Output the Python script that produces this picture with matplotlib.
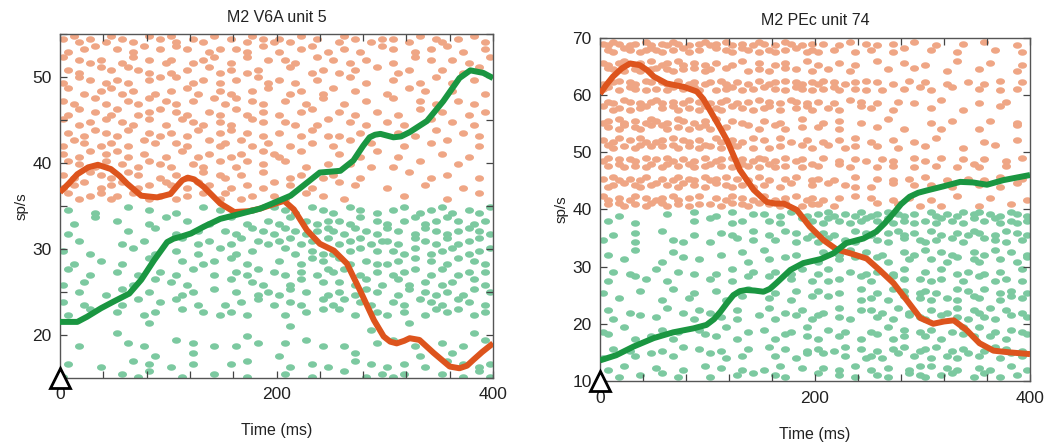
import matplotlib
matplotlib.use("Agg")
import matplotlib.pyplot as plt
import numpy as np
from matplotlib.path import Path
from matplotlib.ticker import MultipleLocator, FixedLocator

plt.rcParams["font.family"] = ["Liberation Sans", "DejaVu Sans"]

BIN_MS = 5  # one raster character per 5 ms bin; digit = small vertical offset

# ---- M2 V6A unit 5 ----
v6a_pref_t = [0, 8, 16, 26, 35, 47, 55, 62, 75, 90, 102, 108, 113, 118, 124, 133, 148,
              161, 175, 185, 197, 207, 216, 228, 240, 253, 265, 277, 290, 299, 305, 311,
              318, 323, 332, 345, 360, 369, 376, 382, 390, 400]
v6a_pref_sps = [36.6, 37.6, 38.7, 39.5, 39.8, 39.3, 38.5, 37.6, 36.2, 36.0, 36.4, 37.3,
                38.0, 38.3, 38.1, 37.2, 35.3, 34.3, 34.4, 34.7, 35.2, 35.6, 34.6, 32.2,
                30.6, 29.8, 28.3, 25.2, 21.7, 19.8, 19.2, 19.0, 19.3, 19.6, 19.4, 17.9,
                16.3, 16.1, 16.4, 17.1, 18.0, 19.0]
v6a_null_t = [0, 16, 25, 38, 50, 64, 75, 87, 99, 105, 111, 121, 133, 148, 167, 185, 200,
              213, 225, 240, 250, 259, 271, 280, 286, 291, 296, 302, 308, 315, 323, 339,
              354, 369, 379, 391, 400]
v6a_null_sps = [21.5, 21.5, 22.1, 23.1, 23.9, 24.8, 26.4, 28.7, 30.8, 31.2, 31.4, 31.8,
                32.6, 33.5, 34.1, 34.7, 35.5, 36.2, 37.4, 38.9, 39.0, 39.1, 40.3, 42.0,
                43.0, 43.3, 43.4, 43.2, 43.0, 43.1, 43.6, 44.9, 47.2, 49.9, 50.8, 50.5,
                49.9]

v6a_pref_raster = [
    "2.31.2..13 .2.1..3.2. 31..2.1.3. .2..13.2.1 2.1.3..2.. .13.2..1.2 .2..1.3..2 1..2..3.1.",
    ".1..2.3... 2..1.3..2. .3.2...1.2 ..2.1..3.. 1...2.3..1 ..2..1...3 .2...1..2. .3..1...2.",
    "3..2.1.2.. .1.3..2..1 2...1.2.3. .1..3...2. .2.1...3.. 2..1..2... .1...3..2. ..2..1...3",
    ".2.1...3.2 ..3.2.1... 1..2...3.1 .2..1.2... ..3...1.2. .1..2...3. ..1.2..... 2...1..3..",
    "1..3.2..1. 2.1...2.3. .3..1.2..1 ..2...3.1. 2..1...2.. ...3..1... .2....1..3 ..1...2...",
    ".3..1..2.3 .1.2...1.. 2..3.1...2 .1...2..3. ..1.2...1. 3...2..... 1...3..2.. ..2.....1.",
    "2.1...3.1. ..2.1.3..2 .1..2...3. 1.3..2.1.. .2...1..3. ..1...2... .3....2..1 ...2..1...",
    ".1.3..2..1 3...1.2.3. .2.1...2.1 ..3.1..2.. 1...2.3... .2..1...2. ..1...3... 2....1..2.",
    "3..1.2..3. .2.1..3..1 ..3.2.1..2 .1...3.2.. .2.1...1.3 ...2..1... 2..1....3. ..2...1...",
    ".2..1.3.2. 1.3...2.1. 2..1.3...2 .3..2..1.. 2...1.3..1 .1...2.... ..2..1...3 ....2..1..",
    "1.3.2..1.2 ..1..3.2.. .2.1...3.1 2..3.1..2. ..1...2... 1..3...2.. ...1....2. .3.....1..",
    "2..1.3..2. 3.1..2...1 ..3..1.2.. .1.2...3.2 1...3..... .2...1..3. ..1....... 2....1....",
    ".3.2..1.3. .2..1.3.2. 1...2.1..3 ..1.3..2.. .3...1...2 ...2...1.. .1....3... ...2......",
    "2.1..3.2.1 ..3.2...1. .2.1..3..2 1..2...3.. ..1.2...1. 2....1.... ....3...1. .2.....1..",
    "1.2.3..1.2 .3..1.2..3 2..1.3.2.. .1..2..1.3 ..2...1... .3..2..... 1......2.. ....1.....",
    ".3.1.2.3.1 2..3..1.2. .1.2..3..1 3..1.2...2 .1...3..2. ..1....... ...2...... .1.....3..",
]
v6a_null_raster = [
    ".2....1... ..3...2... .1....3..2 ..1..2...3 .2.1..3.2. 1..3.2..1. .2.3..1.2. 3.1..2.1.3",
    "..1...3... 2.....1..3 ...2...1.. .3..1...2. 1.3..2.1.2 .2.1.3..2. 1..2.3.1.2 .3.2..1.2.",
    ".1........ ..2....3.. .1...2.... 2.1..3.2.1 .3.2.1.2.3 2.1.3.2.1. 3.2..1.3.2 .1.2.3.2.1",
    "...2...... .1...2.... ..3..1.2.. .1.3..2.1. 2.3.1.2..3 .1.2.3.1.2 2.1..3.2.1 .3.1.2.3..",
    "2....1.... ...3...1.. .2...1...3 ..1..2.... .3.1..2.1. 1..2.3..2. .2.1.3..1. 2.3..1.2.3",
    "..1....2.. .1....3... ..2...1.2. .3..1..... 2...1.3.2. .3.1..2.1. 1.2..3..2. .1.3..2.1.",
    ".3...1.... 2...1...2. .1..3...1. ..2.1.3..2 .1..2..1.3 2.3..1..2. .1.2.3..1. 3..1.2..2.",
    "1...2..... ...1...3.. 2..1...... .3...2.1.. ..1.3...2. .2..1.3..1 ..3.1..2.. 1.2...3.1.",
    "...2....1. .3....2... ..1.2...3. ..2...1.2. 1.3..2...1 .2..1.3.2. ..1.3..2.1 .2..1.3..2",
    "2...1..... .1..3...2. .3...1.... 1..2..3..1 ..2.1...3. 1.3..2.1.. .2.1..3.2. 1..3.2..1.",
    ".1...3.... 2....1.2.. ..3...2..1 .2..1..... .1...2..3. .3..1...2. 1..2...1.3 .2.3..1.2.",
    ".......... ......2... .......... .......... ..1....... .......... ....2..... ..........",
    ".......... 2......... .......... ....1..... .......... .......3.. .......... ......2...",
    "...1...... ..2..1.... .3..2...1. ..1...2... .2...3..1. ..1.....2. .3...1.... 2...1...3.",
    ".......... .......1.. ....2..... .......... 1......... ....2..... ......1... ..2.......",
    ".2.....1.. ...3..2... 1...2..... .2..3..... ..1...2..1 ....3..2.. 1..2...1.. .3..2..1.2",
    "1......... .2..1.3... ..1.....2. ....1..... .2....1... ..3...1..2 .1.2...... 2...1..3.1",
]

# ---- M2 PEc unit 74 ----
pec_pref_t = [0, 6, 12, 20, 28, 37, 44, 50, 62, 78, 90, 96, 102, 110, 118, 130, 143, 155,
              163, 171, 183, 195, 208, 220, 233, 248, 260, 273, 285, 298, 310, 320, 329,
              341, 353, 366, 381, 400]
pec_pref_sps = [60.2, 61.8, 63.2, 64.6, 65.5, 65.2, 64.3, 63.2, 62.0, 61.4, 60.6, 59.3,
                57.4, 54.8, 52.1, 46.9, 43.4, 41.3, 41.0, 41.0, 39.9, 37.0, 34.6, 33.0,
                32.3, 31.4, 29.4, 27.1, 24.2, 21.0, 20.0, 20.4, 20.6, 18.9, 16.6, 15.3,
                15.0, 14.7]
pec_null_t = [0, 15, 31, 50, 68, 87, 99, 106, 112, 118, 124, 130, 136, 144, 152, 158, 164,
              177, 189, 205, 217, 229, 245, 257, 265, 273, 280, 288, 296, 304, 319, 335,
              347, 360, 375, 400]
pec_null_sps = [13.6, 14.5, 16.0, 17.5, 18.5, 19.2, 19.8, 20.8, 22.1, 23.6, 25.0, 25.7,
                25.9, 25.8, 25.6, 26.1, 27.1, 29.4, 30.6, 31.3, 32.3, 34.1, 34.9, 36.1,
                37.6, 39.3, 40.9, 42.2, 42.9, 43.3, 44.0, 44.8, 44.7, 44.3, 45.1, 46.0]

pec_pref_raster = [
    "2132.12.31 .2132.1.23 12.31.2.13 2.1.32.1.2 .2..1.3..2 .1..2...3. ..1....2.. .3.....1..",
    ".21.32.123 21.2.31.2. .3.21.32.1 .21.2.3.12 1..2...1.. 2...1.3... .2....1... ...2....1.",
    "21.23.12.3 .12.31.2.1 .2..1.3..2 ..1.2...3. 1...2..1.. .3....2... 1.....3... ..2.....1.",
    ".32.1.21.2 3.21.2.3.1 2..3...1.2 .1..3.2..1 ..2...1... ...2....3. ....1..... 2......1..",
    "1.23.21.32 .21.3.12.1 2.31.2.1.3 .12.3.21.2 13.2.1.2.3 .2..1..3.. 2...1...2. .1..3...2.",
    "23.1.32.1. 2.13.2.31. .1.23.1.2. 3.2.1.32.1 .2.31..2.1 ..1...2..3 .1...3.... 2...1..2..",
    ".21.32.1.2 31.2.13.2. 1.23.1.2.3 .2.1.32.1. 2..1..3.2. .1...2..1. ...3...... 1....2....",
    "3.12.1.23. .2.31.2.13 .21.3.2.1. 23.1..2.31 ..2.1...3. 2...1..... .2.....1.. ....3.....",
    "12.31.2.13 2.1.32.1.2 .3..2.1... 2..1...3.. .1..2...1. ...3...... .1...2.... ..2....1..",
    ".2.13.21.3 .31.2.1.23 1..2...3.1 ..3.1..2.. 2...1..... .2....1... ...1...... 1......3..",
    "2.13.2.31. 12.3.21.2. .31.2.1.3. 2..3.1..2. .1..2..3.. 1...2...1. ..3....... .1.....2..",
    ".31.2.13.2 .2.31.2.13 2.1.32..1. .1.2...3.1 ..3..1.2.. .2...1.... 2......1.. ...3......",
    "13.2.21.3. 2.31.2.1.3 .12.3.2.13 2.1.3.12.. .3..1..2.1 ..2.1...3. 1..3...2.. .2...1..3.",
    ".2.31.2.13 .13.2.31.2 3.2.1.32.1 .31.2..1.3 2...3.1... .1..2...1. ..2...1..3 1....2....",
    "2.31.2.13. .2.13.21.3 12.3.2.1.3 .1..2.3..1 2..1...3.. .2..1..2.. 3...1...2. .1..3...2.",
    ".12.3.21.2 3.2.13.2.1 .3.21.2.1. 2..1.3...2 ..3..2.1.. 1...3...2. .2...1.... 2...1..3..",
    "31.2.13.2. 12.31.2.3. .2.13.2.1. 3.1.2.3.12 .1..2..3.. 2...1..2.. .1....3... ..2......1",
    ".2.31.2.13 .31.2.1.2. 2.1.3.21.3 .2.13..1.2 2..1...... .3...2...1 ...1...... 1.....2...",
]
pec_null_raster = [
    "...1...... ..2....3.. .1..3...2. 2..1.3..1. 2.31.2.13. 12.3.21.2. .31.2.13.2 3.2.1.32.1",
    ".2....1... .......2.. 3...1.2... .2.1...3.2 .13.2.1.23 .2.31.2.1. 2.13.2.1.3 .2.31.21.2",
    "..1...2... .3.....1.. ..2.1...3. .1..3.2..1 .2.1...3.2 1..2.31.2. .3.1..2.13 2..1.3.2.1",
    "2.....1... ...2.1.... 1....3..2. ..2...1.3. 1.3..2.1.. .2.1..3..2 1.2..3.1.. .3.2.1..2.",
    ".1....3... ...2...... ..1...2... 3.....1... .2..1.3..2 ..1...2.1. 3..2.1...2 .1.3..2..1",
    "....2..... .1...3..2. .......1.. .2..3..... 1...2..3.. .3.1...2.. .2..1.3..2 1...2..1.3",
    "..2..1.... 3...2..1.. .1..3...2. ..2..1.3.. 1.3...2..1 .2..1.3... 2..3..1.2. .1..2...3.",
    ".1....3.2. ..1....... 2...1..3.. .3...2...1 ..1.2...3. 1...3.2..2 .1.2...1.. 3..1.2..1.",
    "1......2.. ...3...1.. .2.....3.. ..1...2... 2...1...3. .1..3.2..1 2.1...3.2. .3..1.2..1",
    "...2...... .1....2... ...1..3... .2...1...3 ..3.....1. 2..1..3..2 .1..2.1..3 2...1.3.2.",
    ".2...1.... ..3..1..2. 1....2.... .3..1..2.. .1..3...2. 2.1..3.1.. .2..1.3..2 1.3..2..1.",
    "..1....3.. 2......1.. ..2..1...3 ..1...3..1 3...2.1... .2..1..3.2 1..3..2.1. .2.1..3..2",
    "1...3..... .2..1...2. ...3...1.. 2....1..3. ..2..1.... 1..3..2..1 .2...1.3.. 3..1..2.1.",
    ".3....1..2 ...1.....3 .2...1.... ..1.3...2. 1...2...1. .3..1.2... 2..1...3.2 ..2..1...3",
    "..2..1.... .1...3..2. ..1....2.. .3..2...1. 2..1.3..2. .1..2.3..1 2.3..1.2.. .1.3.2..1.",
    "1.....2..3 ...2...... 3..1..2... ..2...1.3. .3...2...1 2.1..3..2. .1..2.1.3. 2...1.3.2.",
    ".1..3..... 2....1...3 ..2...1... 1..3...2.. .2..1..3.. 1..2...1.3 .3..2.1... 2.1...3..1",
    "...1...2.. .3..1..... 1....2..3. ..2.1..... 3...2..1.. .2.1...3.2 1..2.3...1 .3..1..2..",
]

PREF_DOT = "#efa685"
NULL_DOT = "#7cc9a0"
PREF_LINE = "#dd541d"
NULL_LINE = "#1a9641"

theta = np.linspace(0, 2 * np.pi, 41)
ELLIPSE = Path(np.column_stack([np.cos(theta), 0.72 * np.sin(theta)]), closed=True)


def spikes(rows, row_y, jit):
    xs, ys = [], []
    for i, row in enumerate(rows):
        row = row.replace(" ", "")
        for j, c in enumerate(row):
            if c != ".":
                xs.append(j * BIN_MS + BIN_MS / 2)
                ys.append(row_y(i) + (int(c) - 2) * jit)
    return xs, ys


def panel(ax, title, pref, null, lines, ylim, ymajor, yminor):
    for rows, row_y, jit, color in [pref + (PREF_DOT,), null + (NULL_DOT,)]:
        xs, ys = spikes(rows, row_y, jit)
        ax.scatter(xs, ys, s=42, marker=ELLIPSE, c=color, linewidths=0, zorder=1)

    (rt, ry), (gt, gy) = lines
    ax.plot(rt, ry, color=PREF_LINE, lw=4.3, solid_joinstyle="round",
            solid_capstyle="butt", zorder=3)
    ax.plot(gt, gy, color=NULL_LINE, lw=4.3, solid_joinstyle="round",
            solid_capstyle="butt", zorder=4)
    ax.plot([0], [ylim[0]], marker="^", ms=14, mfc="white", mec="black", mew=2,
            clip_on=False, zorder=6)

    ax.set_xlim(0, 400)
    ax.set_ylim(*ylim)
    ax.xaxis.set_major_locator(FixedLocator([0, 200, 400]))
    ax.xaxis.set_minor_locator(MultipleLocator(40))
    ax.yaxis.set_major_locator(MultipleLocator(ymajor))
    ax.yaxis.set_minor_locator(MultipleLocator(yminor))
    ax.tick_params(which="both", direction="in", top=True, right=True, length=5,
                   width=0.9, color="#444444", labelsize=12.5, labelcolor="#222222")
    ax.tick_params(axis="x", pad=7)
    ax.tick_params(axis="y", pad=6)
    for sp in ax.spines.values():
        sp.set_color("#555555")
        sp.set_linewidth(1.0)
    ax.set_title(title, fontsize=11.5, color="#222222", pad=9)
    ax.set_xlabel("Time (ms)", fontsize=11.5, color="#222222", labelpad=15)
    ax.set_ylabel("sp/s", fontsize=11, color="#222222", labelpad=3)


def banded(top, band_step, half_gap):
    # two trial rows per band, upper one first
    return lambda i: top - (i // 2) * band_step + (half_gap if i % 2 == 0 else -half_gap)


fig = plt.figure(figsize=(10.47, 4.43), dpi=100)
ax1 = fig.add_axes([0.0573, 0.1474, 0.4136, 0.7752])
ax2 = fig.add_axes([0.5731, 0.1400, 0.4107, 0.7749])

panel(ax1, "M2 V6A unit 5",
      (v6a_pref_raster, lambda i: 54.5 - i * 1.22, 0.35),
      (v6a_null_raster, lambda i: 34.5 - i * 1.19, 0.35),
      [(v6a_pref_t, v6a_pref_sps), (v6a_null_t, v6a_null_sps)],
      (15, 55), 10, 5)

panel(ax2, "M2 PEc unit 74",
      (pec_pref_raster, banded(68.4, 3.37, 0.55), 0.3),
      (pec_null_raster, banded(38.6, 3.37, 0.6), 0.4),
      [(pec_pref_t, pec_pref_sps), (pec_null_t, pec_null_sps)],
      (10, 70), 10, 10)

fig.savefig("out.png", dpi=100)
